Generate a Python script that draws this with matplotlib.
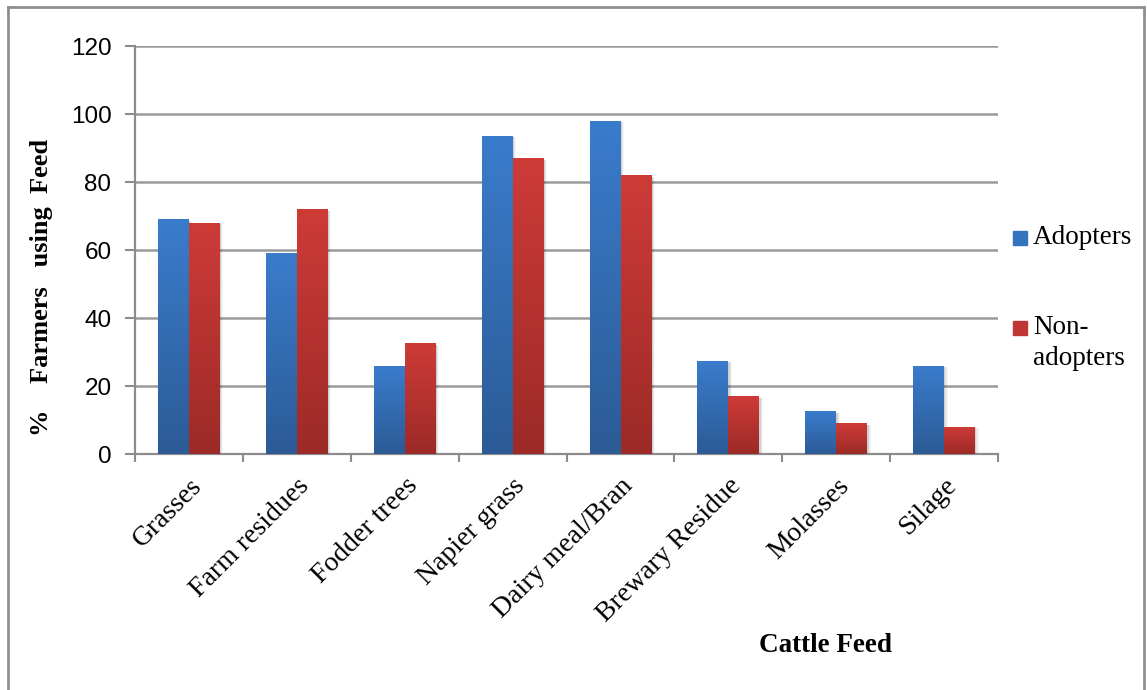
import numpy as np
import matplotlib
matplotlib.use('Agg')
import matplotlib.pyplot as plt
from matplotlib.colors import LinearSegmentedColormap
from matplotlib.lines import Line2D
from matplotlib.patches import Rectangle

feeds = ['Grasses', 'Farm residues', 'Fodder trees', 'Napier grass',
         'Dairy meal/Bran', 'Brewary Residue', 'Molasses', 'Silage']
adopters = [69, 59, 26, 93.5, 98, 27.4, 12.6, 26]
non_adopters = [68, 72, 32.6, 87, 82, 17, 9, 8]
yticks = [0, 20, 40, 60, 80, 100, 120]

SERIF = 'Liberation Serif'
SANS = 'Liberation Sans'

blue_map = LinearSegmentedColormap.from_list('b', ['#2c5b96', '#3a7ccc'])
red_map = LinearSegmentedColormap.from_list('r', ['#9c2a27', '#ce3b37'])

fig = plt.figure(figsize=(11.47, 6.9), dpi=100)
ax = fig.add_axes([0.1177, 0.342, 0.7525, 0.5913])

x = np.arange(len(feeds))
w = 0.287

grad = np.linspace(0, 1, 256).reshape(-1, 1)


def gradient_bars(xs, vals, cmap):
    bars = ax.bar(xs, vals, w, color='none', edgecolor='none', zorder=3)
    for b in bars:
        x0, y0 = b.get_x(), b.get_y()
        bw, bh = b.get_width(), b.get_height()
        # soft shadow to the right of the bar
        for k, a in zip((0.012, 0.022, 0.032), (0.10, 0.06, 0.03)):
            ax.add_patch(Rectangle((x0 + k, y0), bw, bh - 0.4, color='k',
                                   alpha=a, lw=0, zorder=2))
        im = ax.imshow(grad, cmap=cmap, aspect='auto', origin='lower',
                       extent=(x0, x0 + bw, y0, y0 + bh), zorder=3,
                       interpolation='bilinear')
        im.set_clip_path(b)
    return bars


gradient_bars(x - w / 2, adopters, blue_map)
gradient_bars(x + w / 2, non_adopters, red_map)

ax.set_xlim(-0.5, len(feeds) - 0.5)
ax.set_ylim(0, 120)
ax.set_yticks(yticks)
ax.set_yticklabels([str(t) for t in yticks], family=SANS, fontsize=17.5)
ax.yaxis.grid(True, color='#9a9a9a', lw=1.8, zorder=1)
ax.set_axisbelow(True)

ax.set_xticks(np.arange(len(feeds) + 1) - 0.5)
ax.set_xticklabels([])
ax.set_xticks(x, minor=True)
ax.set_xticklabels(feeds, minor=True, rotation=45, ha='right',
                   rotation_mode='anchor', family=SERIF, fontsize=20)
ax.tick_params(axis='x', which='minor', length=0, pad=14)
ax.tick_params(axis='x', which='major', length=6, color='#8c8c8c', width=1.5)
ax.tick_params(axis='y', length=7, color='#8c8c8c', width=1.5, pad=10)

for s in ('top', 'right'):
    ax.spines[s].set_visible(False)
for s in ('left', 'bottom'):
    ax.spines[s].set_color('#8c8c8c')
    ax.spines[s].set_linewidth(1.6)

fig.text(0.036, 0.583, '%    Farmers   using  Feed', rotation=90,
         ha='center', va='center', family=SERIF, fontsize=19, weight='bold')
fig.text(0.72, 0.065, 'Cattle Feed', ha='center', va='center',
         family=SERIF, fontsize=19.5, weight='bold')

# legend: colour squares with their labels
leg_colors = ['#3473bd', '#c03632']
leg_labels = ['Adopters', 'Non-\nadopters']
leg_y = [238, 328]
for c, lab, yy in zip(leg_colors, leg_labels, leg_y):
    fig.add_artist(Rectangle((1013 / 1147, 1 - (yy + 7) / 690), 14 / 1147,
                             14 / 690, color=c, transform=fig.transFigure))
    fig.text(1033 / 1147, 1 - (yy - 13) / 690, lab, ha='left', va='top',
             family=SERIF, fontsize=19.5, linespacing=1.3)

# outer frame
for xs, ys in (((8, 8), (0, 683)), ((8, 1144), (683, 683)),
               ((1144, 1144), (683, 0))):
    fig.add_artist(Line2D([v / 1147 for v in xs], [v / 690 for v in ys],
                          color='#8f8f8f', lw=2, transform=fig.transFigure))

fig.savefig('out.png', dpi=100)
